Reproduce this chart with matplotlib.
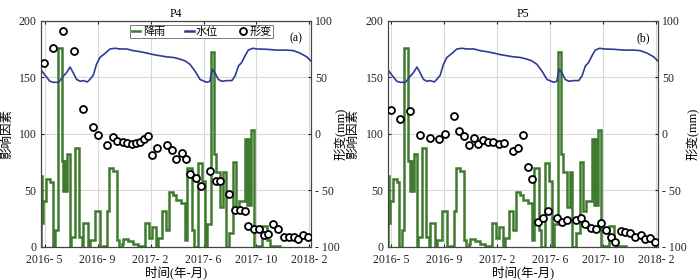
import numpy as np
import matplotlib.pyplot as plt
from matplotlib.lines import Line2D

plt.rcParams['font.family'] = ['Liberation Serif', 'Noto Sans CJK SC']
plt.rcParams['axes.unicode_minus'] = False

# --- data (x is an index along the time axis, ticks carry the month labels) ---
tick_pos = [1.5, 21.5, 41.5, 61.5, 81.5, 101.5]
tick_labels = ['2016- 5', '2016- 9', '2017- 2', '2017- 6', '2017- 10', '2018- 2']

rain_starts = [0.0, 0.5, 0.9, 2.0, 3.5, 4.5, 5.4, 6.4, 7.9, 8.5, 9.0, 9.5, 10.0, 11.1, 11.6,
               13.0, 14.6, 15.5, 16.1, 18.0, 18.6, 20.5, 22.4, 23.7, 25.2, 25.9, 27.5, 28.7,
               29.7, 30.6, 31.2, 33.1, 35.0, 36.9, 38.5, 39.5, 41.0, 42.2, 43.5, 44.5, 45.8,
               47.2, 48.5, 50.0, 51.2, 53.0, 54.6, 55.4, 57.2, 58.0, 59.4, 61.0, 62.0, 62.8,
               64.3, 65.5, 66.2, 67.6, 68.8, 69.8, 71.3, 72.6, 73.9, 75.0, 77.3, 77.9, 78.4,
               79.0, 79.5, 80.6, 82.0, 83.7, 85.4, 86.6]
rain_end = 90.2
rain = [63, 21, 40, 60, 57, 0, 15, 176, 76, 49, 76, 49, 82, 0, 9, 87, 9, 0, 21, 0,
        6, 32, 0, 1, 32, 70, 67, 6, 0, 2, 7, 5, 2, 1, 0, 21, 8, 17, 0, 8,
        32, 15, 48, 46, 41, 39, 6, 70, 15, 0, 74, 58, 0, 20, 172, 82, 66, 35, 66, 0,
        12, 75, 32, 40, 95, 37, 95, 37, 103, 0, 1, 18, 6, 1]

level_x = [0, 1.6, 3.5, 4.8, 6.7, 7.3, 8.6, 9.8, 11.1, 12.3, 13.6, 14.9, 16.1, 17.6, 18.6,
           19.9, 21.1, 22.4, 24.3, 26.2, 28.1, 29.9, 32.5, 35.0, 37.5, 40.0, 42.6, 45.1,
           47.6, 50.1, 52.6, 54.5, 56.4, 58.3, 60.2, 62.7, 63.9, 64.8, 65.8, 67.1, 68.4,
           70.3, 72.2, 73.4, 74.7, 75.9, 77.2, 78.4, 80.1, 81.7, 85.4, 89.1, 92.9, 95.4,
           97.9, 100.5, 102]
level = [157, 152, 146.4, 145.5, 145.5, 147, 151, 154, 159, 154, 148, 146.4, 147, 145.8,
         148, 151.8, 161.4, 167.5, 171, 175, 175.6, 175, 175, 173.5, 172.6, 171.4, 170, 169,
         168, 167.5, 166, 164.5, 161.4, 155.4, 148, 145.5, 146.4, 157, 154, 148, 146.4, 147,
         147, 151, 160, 163, 169, 174, 175.6, 175, 174.7, 174, 174, 173.5, 171.4, 168, 164.5]

p4_x = [1.25, 4.8, 8.6, 12.5, 16.0, 19.8, 21.6, 25.2, 27.3, 29.0, 31.1, 32.7, 34.5, 36.0,
        37.6, 39.0, 40.5, 41.9, 43.8, 47.6, 49.5, 51.2, 53.2, 55.0, 56.4, 58.5, 60.5, 64.0,
        66.2, 67.8, 71.3, 73.4, 75.3, 77.2, 78.4, 80.6, 82.6, 84.4, 86.0, 87.9, 89.8, 91.7,
        93.6, 95.5, 97.3, 99.2, 101.1]
p4_def = [63, 76, 91, 73, 22, 6, -1, -10, -3, -6.5, -7, -8.5, -9, -8.5,
          -7.5, -5, -2, -19, -13, -10, -14.5, -22, -17.5, -22, -36, -39.5, -46, -33,
          -42, -42, -53, -67.5, -67.5, -68, -82, -84.5, -84.5, -89.5, -89, -79.5, -84.5, -91,
          -91, -91, -93.5, -90, -91]

p5_x = [1.3, 4.8, 8.5, 12.3, 16.1, 19.6, 21.7, 25.1, 27.0, 28.9, 30.8, 32.6, 34.3, 36.2,
        38.1, 40.0, 41.9, 43.8, 47.3, 49.2, 51.0, 52.9, 54.7, 56.7, 58.6, 60.5, 63.9, 65.9,
        67.8, 71.2, 73.2, 74.7, 77.0, 78.7, 80.6, 82.3, 84.2, 86.0, 88.0, 89.8, 91.7, 93.6,
        95.5, 97.3, 99.2, 100.8]
p5_def = [21.4, 13.2, 20.3, -1.5, -3.9, -4.4, 0, 15.3, 2, -2.4, -10.3, -3.5, -8.8, -5.3,
          -7.4, -7.4, -9.2, -8, -15.6, -12.7, -0.9, -29.5, -40.3, -78, -75, -68.3, -74.4, -78.5,
          -76.5, -76.5, -75, -80, -83.2, -84.4, -79.4, -85.3, -91.2, -95.6, -86.2, -86.8, -88.2, -91.2,
          -89.7, -93.5, -92, -95.6]

GREEN = '#3f7a2e'
BLUE = '#2e3a96'
GRID = '#d9d9d9'
SPINE = '#444444'


def draw_panel(rect, title, tag, dx, dy, rlab_x, legend=False):
    ax = fig.add_axes(rect)
    ax.set_xlim(0, 102)
    ax.set_ylim(0, 200)
    ax.grid(True, color=GRID, linewidth=0.8)
    ax.set_axisbelow(True)

    ax.stairs(rain, np.append(rain_starts, rain_end), baseline=0, fill=False,
              color=GREEN, linewidth=1.8, zorder=2)
    ax.plot(level_x, level, color=BLUE, linewidth=1.2, zorder=3)

    ax.set_xticks(tick_pos)
    ax.set_xticklabels(tick_labels)
    ax.set_yticks([0, 50, 100, 150, 200])
    ax.tick_params(direction='in', length=2.5, labelsize=8.5, colors='#222222',
                   top=True, pad=3)
    ax.tick_params(axis='x', pad=5)
    for s in ax.spines.values():
        s.set_color(SPINE)
        s.set_linewidth(0.8)
    ax.set_title(title, fontsize=8.5, pad=3)
    ax.set_ylabel('影响因素', fontsize=9)
    ax.yaxis.set_label_coords(-0.103, 0.5)
    ax.set_xlabel('时间(年-月)', fontsize=9)
    ax.xaxis.set_label_coords(0.5, -0.085)
    ax.text(0.97, 0.92, tag, transform=ax.transAxes, ha='right', va='center', fontsize=8.5)

    ax2 = ax.twinx()
    ax2.set_ylim(-100, 100)
    ax2.set_yticks([-100, -50, 0, 50, 100])
    ax2.set_yticklabels(['- 100', '- 50', '0', '50', '100'])
    ax2.tick_params(direction='in', length=2.5, labelsize=8.5, colors='#222222', pad=3)
    for s in ax2.spines.values():
        s.set_color(SPINE)
        s.set_linewidth(0.8)
    ax2.plot(dx, dy, 'o', ms=5.0, mfc='white', mec='black', mew=1.3, zorder=4)
    ax2.set_ylabel('形变(mm)', fontsize=9)
    ax2.yaxis.set_label_coords(rlab_x, 0.5)

    if legend:
        handles = [Line2D([], [], color=GREEN, lw=1.8),
                   Line2D([], [], color=BLUE, lw=1.8),
                   Line2D([], [], ls='none', marker='o', ms=5.0, mfc='white',
                          mec='black', mew=1.3)]
        leg = ax2.legend(handles, ['降雨', '水位', '形变'], ncol=3, loc='center',
                         bbox_to_anchor=(0.288, 0.8875), bbox_transform=fig.transFigure,
                         fontsize=8, handlelength=0.8, handletextpad=0.2,
                         columnspacing=1.8, borderpad=0.15, fancybox=False,
                         framealpha=1, edgecolor='#777777')
        leg.get_frame().set_linewidth(0.7)
    return ax


fig = plt.figure(figsize=(7, 2.8), dpi=100)
draw_panel([0.058, 0.119, 0.386, 0.807], 'P4', '(a)', p4_x, p4_def, 1.086, legend=True)
draw_panel([0.5536, 0.119, 0.386, 0.807], 'P5', '(b)', p5_x, p5_def, 1.105)

fig.savefig('out.png', dpi=100)
